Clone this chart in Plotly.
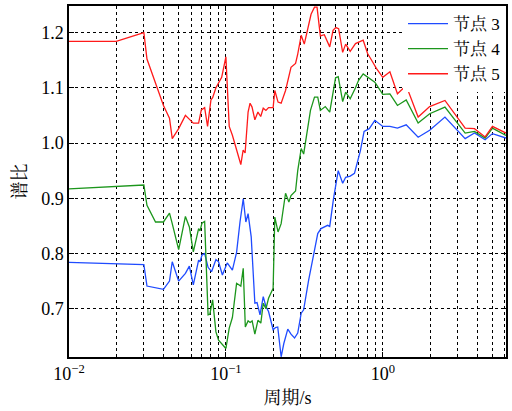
import math
import plotly.graph_objects as go

# ---- data ----
blue_x = [0.01, 0.02, 0.03, 0.0314, 0.04, 0.0437, 0.0455, 0.05, 0.0552, 0.0585, 0.062, 0.067, 0.0684, 0.0704,
          0.0732, 0.077, 0.081, 0.0864, 0.0898, 0.095, 0.102, 0.11, 0.117, 0.123, 0.129, 0.134, 0.1385, 0.145,
          0.153, 0.158, 0.165, 0.173, 0.18, 0.187, 0.20, 0.207, 0.214, 0.225, 0.234, 0.248, 0.26, 0.274, 0.287,
          0.302, 0.313, 0.337, 0.36, 0.385, 0.404, 0.42, 0.445, 0.459, 0.485, 0.52, 0.555, 0.58, 0.62, 0.66,
          0.72, 0.76, 0.82, 0.89, 1.0, 1.11, 1.24, 1.41, 1.68, 1.99, 2.49, 3.35, 3.84, 4.49, 5.0, 6.1]
blue_y = [0.784, 0.782, 0.780, 0.741, 0.735, 0.750, 0.785, 0.750, 0.764, 0.777, 0.743, 0.788, 0.785, 0.797,
          0.800, 0.775, 0.767, 0.789, 0.785, 0.761, 0.783, 0.770, 0.802, 0.857, 0.899, 0.857, 0.872, 0.830,
          0.710, 0.711, 0.689, 0.722, 0.704, 0.695, 0.662, 0.666, 0.667, 0.613, 0.637, 0.663, 0.654, 0.647,
          0.656, 0.692, 0.698, 0.752, 0.791, 0.836, 0.845, 0.848, 0.851, 0.849, 0.899, 0.950, 0.927, 0.938,
          0.940, 0.945, 0.986, 1.021, 1.026, 1.041, 1.030, 1.030, 1.027, 1.033, 1.0105, 1.023, 1.047, 1.008,
          1.018, 1.006, 1.017, 1.009]

green_x = [0.01, 0.02, 0.03, 0.0314, 0.0356, 0.04, 0.0437, 0.0455, 0.05, 0.0552, 0.0585, 0.062, 0.067, 0.0684,
           0.0704, 0.0732, 0.077, 0.079, 0.0823, 0.0864, 0.0898, 0.1, 0.105, 0.11, 0.117, 0.1245, 0.129, 0.133,
           0.1385, 0.1426, 0.147, 0.153, 0.16, 0.167, 0.173, 0.18, 0.187, 0.20, 0.205, 0.215, 0.225, 0.24,
           0.252, 0.26, 0.278, 0.287, 0.302, 0.313, 0.346, 0.367, 0.385, 0.40, 0.43, 0.459, 0.485, 0.50, 0.52,
           0.555, 0.58, 0.62, 0.67, 0.70, 0.75, 0.80, 0.89, 1.0, 1.11, 1.24, 1.41, 1.68, 1.99, 2.49, 3.35,
           3.84, 4.49, 5.0, 6.1]
green_y = [0.917, 0.921, 0.924, 0.887, 0.857, 0.857, 0.873, 0.854, 0.807, 0.867, 0.848, 0.803, 0.845, 0.841,
           0.855, 0.858, 0.689, 0.690, 0.716, 0.658, 0.643, 0.628, 0.665, 0.684, 0.746, 0.741, 0.773, 0.667,
           0.678, 0.675, 0.678, 0.654, 0.679, 0.674, 0.710, 0.700, 0.719, 0.737, 0.866, 0.839, 0.854, 0.909,
           0.893, 0.905, 0.913, 0.950, 0.990, 0.980, 1.059, 1.083, 1.083, 1.059, 1.066, 1.056, 1.101, 1.118,
           1.120, 1.075, 1.092, 1.080, 1.100, 1.113, 1.125, 1.119, 1.110, 1.088, 1.089, 1.068, 1.078, 1.036,
           1.053, 1.065, 1.018, 1.021, 1.009, 1.027, 1.0135]

red_x = [0.01, 0.02, 0.03, 0.0314, 0.04, 0.0437, 0.0455, 0.05, 0.0552, 0.062, 0.067, 0.0697, 0.0732, 0.0764,
         0.0803, 0.0823, 0.0864, 0.0898, 0.094, 0.1, 0.105, 0.11, 0.1245, 0.1288, 0.1326, 0.1385, 0.1426,
         0.1468, 0.153, 0.16, 0.1667, 0.173, 0.18, 0.187, 0.20, 0.205, 0.215, 0.225, 0.24, 0.26, 0.278, 0.287,
         0.302, 0.316, 0.329, 0.349, 0.367, 0.381, 0.40, 0.424, 0.459, 0.482, 0.502, 0.523, 0.555, 0.58, 0.62,
         0.67, 0.75, 0.80, 0.86, 0.91, 1.0, 1.11, 1.24, 1.41, 1.68, 1.99, 2.49, 3.35, 3.84, 4.49, 5.0, 6.1]
red_y = [1.184, 1.184, 1.2, 1.152, 1.068, 1.045, 1.008, 1.026, 1.050, 1.036, 1.036, 1.060, 1.064, 1.030,
         1.078, 1.082, 1.100, 1.110, 1.119, 1.156, 1.030, 1.014, 0.961, 0.987, 0.982, 1.056, 1.072, 1.065,
         1.042, 1.056, 1.048, 1.063, 1.059, 1.064, 1.064, 1.095, 1.074, 1.072, 1.095, 1.137, 1.144, 1.161,
         1.195, 1.179, 1.203, 1.233, 1.246, 1.246, 1.194, 1.196, 1.174, 1.204, 1.209, 1.207, 1.164, 1.179,
         1.166, 1.180, 1.186, 1.162, 1.147, 1.135, 1.119, 1.129, 1.089, 1.104, 1.047, 1.066, 1.077, 1.027,
         1.026, 1.011, 1.030, 1.018]

series_names = ["节点 3", "节点 4", "节点 5"]
series_colors = ["#1f4bff", "#1c961c", "#ff1a1a"]

x_title = "周期/s"
y_title = "谱比"
y_ticks = [0.7, 0.8, 0.9, 1.0, 1.1, 1.2]
x_decades = [0.01, 0.1, 1.0]
x_decade_labels = ["10<sup>−2</sup>", "10<sup>−1</sup>", "10<sup>0</sup>"]
x_limits = [0.01, 6.1]
y_limits = [0.6126, 1.248]

# intermediate log-grid positions (digits 2..9 of each decade)
x_minor = [d * k for d in x_decades for k in range(2, 10) if d * k <= x_limits[1]]

FONT = "Times New Roman, Liberation Serif, Noto Serif CJK SC, Noto Sans CJK SC, serif"

fig = go.Figure()
for xs, ys, name, col in [(blue_x, blue_y, series_names[0], series_colors[0]),
                          (green_x, green_y, series_names[1], series_colors[1]),
                          (red_x, red_y, series_names[2], series_colors[2])]:
    fig.add_trace(go.Scatter(x=xs, y=ys, mode="lines", name=name,
                             line=dict(color=col, width=1.3)))

fig.update_layout(
    width=512, height=411,
    margin=dict(l=69, r=4, t=5, b=54),
    paper_bgcolor="white", plot_bgcolor="white",
    font=dict(family=FONT, size=18, color="black"),
    showlegend=True,
    legend=dict(x=1, y=1, xanchor="right", yanchor="top", bgcolor="white",
                borderwidth=0, font=dict(size=17, family=FONT), tracegroupgap=0,
                itemwidth=40),
)
fig.update_xaxes(
    type="log", range=[math.log10(x_limits[0]), math.log10(x_limits[1])],
    tickvals=x_decades, ticktext=x_decade_labels,
    showgrid=True, gridcolor="black", griddash="dot", gridwidth=1,
    minor=dict(tickvals=x_minor, showgrid=True, gridcolor="black", griddash="dot",
               gridwidth=1, ticks="inside", ticklen=3, tickcolor="black"),
    showline=True, linecolor="black", linewidth=1.5, mirror="ticks",
    ticks="inside", ticklen=5, tickcolor="black",
    title=dict(text=x_title, font=dict(size=18, family=FONT), standoff=8),
    zeroline=False,
)
fig.update_yaxes(
    range=y_limits, tickvals=y_ticks, tickformat=".1f",
    showgrid=True, gridcolor="black", griddash="dot", gridwidth=1,
    showline=True, linecolor="black", linewidth=1.5, mirror="ticks",
    ticks="inside", ticklen=5, tickcolor="black",
    title=dict(text=y_title, font=dict(size=18, family=FONT), standoff=10),
    zeroline=False,
)

fig.write_html("out.html")
